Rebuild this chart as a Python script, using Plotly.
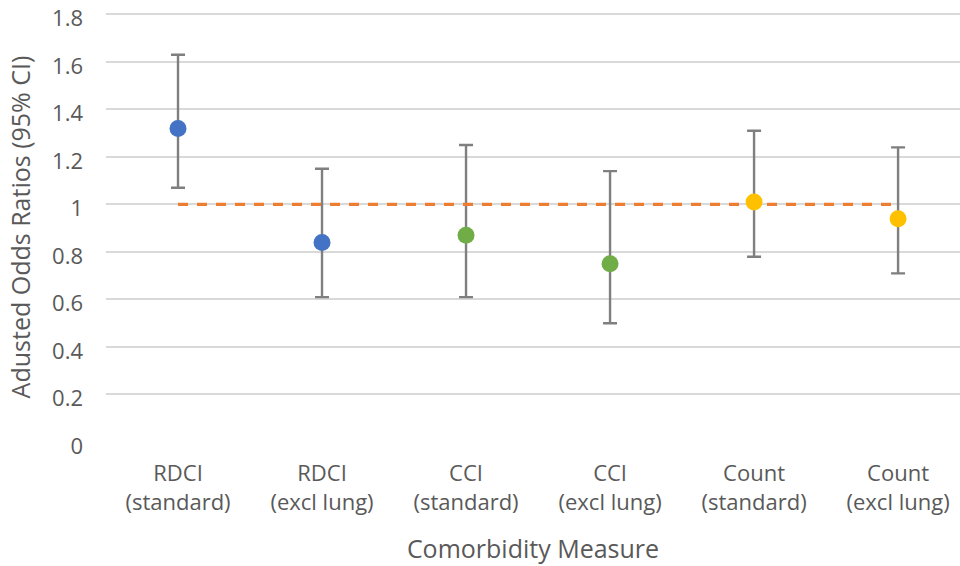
import plotly.graph_objects as go

categories = ["RDCI<br>(standard)", "RDCI<br>(excl lung)", "CCI<br>(standard)",
              "CCI<br>(excl lung)", "Count<br>(standard)", "Count<br>(excl lung)"]
odds_ratios = [1.32, 0.84, 0.87, 0.75, 1.01, 0.94]
ci_lower = [1.07, 0.61, 0.61, 0.50, 0.78, 0.71]
ci_upper = [1.63, 1.15, 1.25, 1.14, 1.31, 1.24]
reference = [1, 1, 1, 1, 1, 1]
point_colors = ["#4472C4", "#4472C4", "#70AD47", "#70AD47", "#FFC000", "#FFC000"]
y_ticks = [0, 0.2, 0.4, 0.6, 0.8, 1, 1.2, 1.4, 1.6, 1.8]
y_tick_labels = ["0", "0.2", "0.4", "0.6", "0.8", "1", "1.2", "1.4", "1.6", "1.8"]

err_plus = [u - v for u, v in zip(ci_upper, odds_ratios)]
err_minus = [v - l for v, l in zip(odds_ratios, ci_lower)]

font_family = "Open Sans, Liberation Sans, sans-serif"
text_color = "#595959"

fig = go.Figure()
# error bars (drawn first)
fig.add_trace(go.Scatter(
    x=categories, y=odds_ratios, mode="markers",
    marker=dict(size=1, color="rgba(0,0,0,0)"),
    error_y=dict(type="data", symmetric=False, array=err_plus, arrayminus=err_minus,
                 color="#7F7F7F", thickness=2.4, width=7),
    showlegend=False, hoverinfo="skip"))
# reference dashed line
fig.add_trace(go.Scatter(
    x=categories, y=reference, mode="lines",
    line=dict(color="#ED7D31", width=3.2, dash="10px,9px"),
    showlegend=False))
# markers
fig.add_trace(go.Scatter(
    x=categories, y=odds_ratios, mode="markers",
    marker=dict(size=17, color=point_colors),
    showlegend=False))

fig.update_layout(
    width=960, height=566,
    margin=dict(l=106, r=0, t=12, b=124),
    paper_bgcolor="white", plot_bgcolor="white",
    font=dict(family=font_family, color=text_color, size=22),
)
fig.update_xaxes(
    type="category", range=[-0.5, 5.43], automargin=False,
    showgrid=False, zeroline=False, showline=False, ticks="",
    tickfont=dict(size=22, color=text_color),
    ticklabelstandoff=16,
    title=dict(text="Comorbidity Measure", font=dict(size=25, color=text_color), standoff=25),
)
fig.update_yaxes(
    range=[0, 1.81], automargin=False, tickmode="array",
    tickvals=y_ticks, ticktext=y_tick_labels,
    ticklabeloverflow="allow", ticklabelshift=4,
    showgrid=True, gridcolor="#D9D9D9", gridwidth=2,
    zeroline=False, showline=False, ticks="",
    tickfont=dict(size=22, color=text_color),
    ticklabelstandoff=22,
    title=dict(text="Adusted Odds Ratios (95% CI)", font=dict(size=25, color=text_color), standoff=14),
)

fig.write_html("out.html", config={"displayModeBar": False},
               post_script="document.body.style.margin='0px';")
